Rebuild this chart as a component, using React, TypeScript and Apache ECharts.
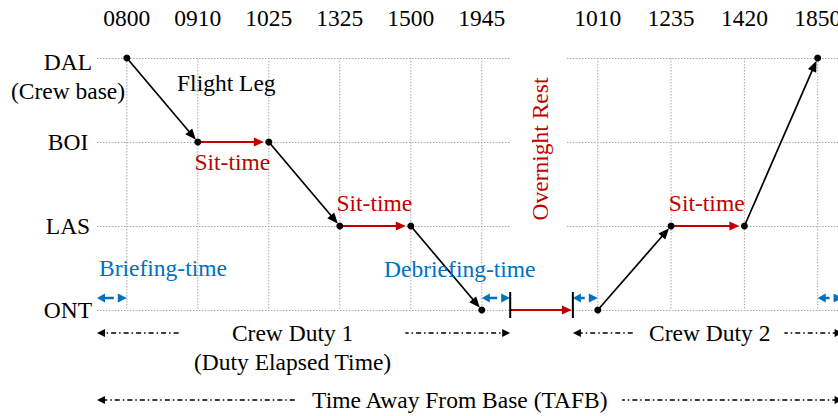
import React, { useEffect, useRef } from 'react';
import * as echarts from 'echarts';

// ---------------- data ----------------
const stations = ['ONT', 'LAS', 'BOI', 'DAL']; // bottom -> top
const stationNotes: Record<string, string> = { DAL: '(Crew base)' };

const duty1Times = ['0800', '0910', '1025', '1325', '1500', '1945'];
const duty1Stations = ['DAL', 'BOI', 'BOI', 'LAS', 'LAS', 'ONT'];
const duty1Flights = [[0, 1], [2, 3], [4, 5]];
const duty1Sits = [[1, 2], [3, 4]];
const duty1Brief = [-0.42, 0];
const duty1Debrief = [5, 5.4];

const duty2Times = ['1010', '1235', '1420', '1850'];
const duty2Stations = ['ONT', 'LAS', 'LAS', 'DAL'];
const duty2Flights = [[0, 1], [2, 3]];
const duty2Sits = [[1, 2]];
const duty2Brief = [-0.34, 0];
const duty2Debrief = [3, 3.34];

const dutyLabels = ['Crew Duty 1', 'Crew Duty 2'];
const dutySubLabel = '(Duty Elapsed Time)';
const tafbLabel = 'Time Away From Base (TAFB)';
const flightLabel = 'Flight Leg';
const sitLabel = 'Sit-time';
const briefLabel = 'Briefing-time';
const debriefLabel = 'Debriefing-time';
const restLabel = 'Overnight Rest';

// ---------------- styles ----------------
const FONT = '"Liberation Serif", "Times New Roman", Times, serif';
const FS = 23.5;
const BLACK = '#000000';
const RED = '#c00000';
const BLUE = '#0070c0';
const GRID_GRAY = '#a8a8a8';

const GRIDS = [
  { left: 97, top: 58, width: 413.2, height: 252, min: -0.42, max: 5.4 },
  { left: 567, top: 58, width: 280, height: 252, min: -0.42, max: 3.4 },
];

const duties = [
  { times: duty1Times, st: duty1Stations, flights: duty1Flights, sits: duty1Sits, brief: duty1Brief, debrief: duty1Debrief, sitBelow: [true, false] },
  { times: duty2Times, st: duty2Stations, flights: duty2Flights, sits: duty2Sits, brief: duty2Brief, debrief: duty2Debrief, sitBelow: [false] },
];

const sIdx = (s: string) => stations.indexOf(s);

function arrowEls(p0: number[], p1: number[], color: string, lw: number, head: number, hw: number, tipGap: number, dash?: number[]) {
  const dx = p1[0] - p0[0];
  const dy = p1[1] - p0[1];
  const L = Math.hypot(dx, dy) || 1;
  const ux = dx / L, uy = dy / L;
  const nx = -uy, ny = ux;
  const tip = [p1[0] - ux * tipGap, p1[1] - uy * tipGap];
  const base = [tip[0] - ux * head, tip[1] - uy * head];
  const lineStyle: any = { stroke: color, lineWidth: lw };
  if (dash) lineStyle.lineDash = dash;
  return [
    { type: 'line', shape: { x1: p0[0], y1: p0[1], x2: base[0] + ux, y2: base[1] + uy }, style: lineStyle },
    {
      type: 'polygon',
      shape: { points: [tip, [base[0] + nx * hw, base[1] + ny * hw], [base[0] - nx * hw, base[1] - ny * hw]] },
      style: { fill: color },
    },
  ];
}

function textStyle(text: string, fill: string, align: string, vAlign: string, extra: any = {}) {
  return {
    text,
    fill,
    fontSize: FS,
    fontFamily: FONT,
    align,
    textAlign: align,
    verticalAlign: vAlign,
    textVerticalAlign: vAlign,
    ...extra,
  };
}

export default function App() {
  const ref = useRef<HTMLDivElement>(null);

  useEffect(() => {
    if (!ref.current) return;
    document.body.style.margin = '0';
    const chart = echarts.init(ref.current, null, { renderer: 'svg' });

    const series: any[] = [];
    duties.forEach((d, g) => {
      // vertical gridlines
      series.push({
        type: 'custom',
        xAxisIndex: g,
        yAxisIndex: g,
        silent: true,
        z: 1,
        data: d.times.map((_, i) => [i, 0]),
        renderItem: (params: any, api: any) => {
          const a = api.coord([api.value(0), stations.length - 1]);
          const b = api.coord([api.value(0), 0]);
          return {
            type: 'line',
            shape: { x1: a[0], y1: a[1], x2: b[0], y2: b[1] },
            style: { stroke: GRID_GRAY, lineWidth: 1, lineDash: [1.5, 1.5] },
          };
        },
      });
      // flight legs
      series.push({
        type: 'custom',
        xAxisIndex: g,
        yAxisIndex: g,
        silent: true,
        z: 3,
        data: d.flights.map(([a, b]) => [a, sIdx(d.st[a]), b, sIdx(d.st[b])]),
        renderItem: (params: any, api: any) => {
          const p0 = api.coord([api.value(0), api.value(1)]);
          const p1 = api.coord([api.value(2), api.value(3)]);
          return { type: 'group', children: arrowEls(p0, p1, BLACK, 1.7, 11, 4.5, 3) };
        },
      });
      // sit times
      series.push({
        type: 'custom',
        xAxisIndex: g,
        yAxisIndex: g,
        silent: true,
        z: 3,
        data: d.sits.map(([a, b]) => [a, sIdx(d.st[a]), b, sIdx(d.st[b])]),
        renderItem: (params: any, api: any) => {
          const p0 = api.coord([api.value(0), api.value(1)]);
          const p1 = api.coord([api.value(2), api.value(3)]);
          const below = d.sitBelow[params.dataIndex];
          const mx = (p0[0] + p1[0]) / 2;
          return {
            type: 'group',
            children: [
              ...arrowEls(p0, p1, RED, 1.9, 10, 4.5, 5),
              {
                type: 'text',
                x: mx - 1,
                y: p0[1] + (below ? 20 : -23),
                style: textStyle(sitLabel, RED, 'center', 'middle'),
              },
            ],
          };
        },
      });
      // briefing / debriefing double arrows
      series.push({
        type: 'custom',
        xAxisIndex: g,
        yAxisIndex: g,
        silent: true,
        z: 3,
        data: [d.brief, d.debrief],
        renderItem: (params: any, api: any) => {
          const s = api.coord([api.value(0), 0]);
          const e = api.coord([api.value(1), 0]);
          const y = s[1] - 12;
          const x0 = s[0], x1 = e[0];
          return {
            type: 'group',
            children: [
              { type: 'polygon', shape: { points: [[x0, y], [x0 + 8, y - 4.5], [x0 + 8, y + 4.5]] }, style: { fill: BLUE } },
              { type: 'line', shape: { x1: x0 + 7, y1: y, x2: x1 - 13, y2: y }, style: { stroke: BLUE, lineWidth: 2.5 } },
              { type: 'polygon', shape: { points: [[x1, y], [x1 - 9, y - 4.5], [x1 - 9, y + 4.5]] }, style: { fill: BLUE } },
            ],
          };
        },
      });
      // points
      series.push({
        type: 'scatter',
        xAxisIndex: g,
        yAxisIndex: g,
        silent: true,
        z: 5,
        symbolSize: 7,
        itemStyle: { color: BLACK, opacity: 1 },
        data: d.times.map((_, i) => [i, sIdx(d.st[i])]),
      });
    });

    const option: any = {
      animation: false,
      grid: GRIDS.map((gr) => ({
        left: gr.left,
        top: gr.top,
        width: gr.width,
        height: gr.height,
        containLabel: false,
        outerBoundsMode: 'none',
      })),
      xAxis: duties.map((d, g) => ({
        type: 'value',
        gridIndex: g,
        min: GRIDS[g].min,
        max: GRIDS[g].max,
        position: 'top',
        axisLine: { show: false },
        axisTick: { show: false },
        splitLine: { show: false },
        axisLabel: {
          customValues: d.times.map((_, i) => i),
          formatter: (v: number) => (Math.abs(v - Math.round(v)) < 1e-6 ? d.times[Math.round(v)] ?? '' : ''),
          margin: 28,
          fontSize: FS,
          fontFamily: FONT,
          color: BLACK,
        },
      })),
      yAxis: duties.map((d, g) => ({
        type: 'value',
        gridIndex: g,
        min: 0,
        max: stations.length - 1,
        interval: 1,
        axisLine: { show: false },
        axisTick: { show: false },
        splitLine: { show: true, lineStyle: { color: GRID_GRAY, width: 1, type: [1.5, 1.5] } },
        axisLabel: {
          show: g === 0,
          align: 'center',
          margin: 29,
          fontSize: FS,
          fontFamily: FONT,
          color: BLACK,
          formatter: (v: number) => {
            const s = stations[Math.round(v)] ?? '';
            const note = stationNotes[s];
            if (note) return `{s| }\n{a|${s}}\n{a|${note}}`;
            return `{a|${s}}`;
          },
          rich: {
            s: { fontSize: FS, fontFamily: FONT, lineHeight: 37 },
            a: { fontSize: FS, fontFamily: FONT, color: BLACK, lineHeight: 29, align: 'center' },
          },
        },
      })),
      series,
    };

    chart.setOption(option);

    // ---------- annotations that need pixel positions from the scales ----------
    const px = (g: number, x: number, y: number) => chart.convertToPixel({ gridIndex: g } as any, [x, y]) as number[];
    const d1 = duties[0], d2 = duties[1];
    const ontY = px(0, 0, sIdx('ONT'))[1];
    const boiY = px(0, 0, sIdx('BOI'))[1];
    const els: any[] = [];

    // Flight Leg label (next to the first leg)
    const f = d1.flights[0];
    const fa = px(0, f[0], sIdx(d1.st[f[0]]));
    const fb = px(0, f[1], sIdx(d1.st[f[1]]));
    els.push({ type: 'text', z: 20, x: (fa[0] + fb[0]) / 2 + 64, y: (fa[1] + fb[1]) / 2 - 17, style: textStyle(flightLabel, BLACK, 'center', 'middle') });

    // Briefing / debriefing labels
    els.push({ type: 'text', z: 20, x: px(0, d1.brief[0], 0)[0] + 2, y: ontY - 42, style: textStyle(briefLabel, BLUE, 'left', 'middle') });
    els.push({ type: 'text', z: 20, x: px(0, d1.debrief[0], 0)[0] - 22, y: ontY - 41, style: textStyle(debriefLabel, BLUE, 'center', 'middle') });

    // Overnight rest
    const ra = px(0, d1.debrief[1], 0);
    const rb = px(1, d2.brief[0], 0);
    els.push(...arrowEls([ra[0], ontY], [rb[0], ontY], RED, 1.9, 10, 4.5, 1).map((e) => ({ ...e, z: 10 })));
    [ra[0], rb[0]].forEach((x) => {
      els.push({ type: 'line', z: 11, shape: { x1: x, y1: ontY - 18, x2: x, y2: ontY + 8 }, style: { stroke: BLACK, lineWidth: 2 } });
    });
    els.push({
      type: 'text',
      z: 20,
      x: (ra[0] + rb[0]) / 2 - 2,
      y: boiY + 7,
      rotation: Math.PI / 2,
      style: textStyle(restLabel, RED, 'center', 'middle'),
    });

    // Duty brackets and TAFB
    const row1 = ontY + 23;
    const row2 = ontY + 90;
    const brackets = [
      { a: px(0, d1.brief[0], 0)[0], b: px(0, d1.debrief[1], 0)[0], y: row1, text: dutyLabels[0] + '\n' + dutySubLabel, shift: -11 },
      { a: px(1, d2.brief[0], 0)[0], b: px(1, d2.debrief[1], 0)[0], y: row1, text: dutyLabels[1], shift: 2 },
      { a: px(0, d1.brief[0], 0)[0], b: px(1, d2.debrief[1], 0)[0], y: row2, text: tafbLabel, shift: -10 },
    ];
    brackets.forEach((br) => {
      const mid = (br.a + br.b) / 2;
      els.push(...arrowEls([mid, br.y], [br.a, br.y], BLACK, 1.3, 8, 4, 0, [5, 3, 1.5, 3]).map((e) => ({ ...e, z: 8 })));
      els.push(...arrowEls([mid, br.y], [br.b, br.y], BLACK, 1.3, 8, 4, 0, [5, 3, 1.5, 3]).map((e) => ({ ...e, z: 8 })));
      els.push({
        type: 'text',
        z: 20,
        x: mid + br.shift,
        y: br.y - 14.5,
        style: textStyle(br.text, BLACK, 'center', 'top', { lineHeight: 29, backgroundColor: '#ffffff', padding: [0, 14] }),
      });
    });

    chart.setOption({ graphic: { elements: els } });

    return () => chart.dispose();
  }, []);

  return <div ref={ref} style={{ position: 'absolute', left: 0, top: 0, width: 838, height: 416 }} />;
}
